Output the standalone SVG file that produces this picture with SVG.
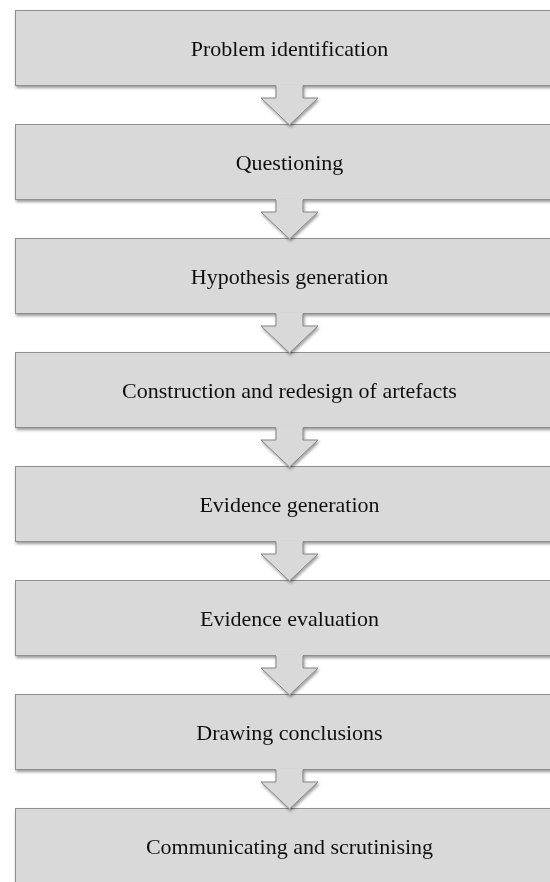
<svg xmlns="http://www.w3.org/2000/svg" width="550" height="882" viewBox="0 0 550 882">
  <style>
    .box { fill: #d9d9d9; stroke: #8f8f8f; stroke-width: 1; }
    .arrow-fill { fill: #d9d9d9; stroke: none; }
    .arrow-line { fill: none; stroke: #858585; stroke-width: 1; stroke-linejoin: miter; }
    .label { font-family: "Liberation Serif", "Times New Roman", serif; font-size: 22px; fill: #111111; text-anchor: middle; }
  </style>
  <defs>
    <filter id="shadow" x="-5%" y="-20%" width="115%" height="160%">
      <feDropShadow dx="1" dy="2" stdDeviation="1.6" flood-color="#000" flood-opacity="0.4"/>
    </filter>
    <!-- down arrow anchored at the bottom edge of a box (y = 0) -->
    <g id="downArrow">
      <path class="arrow-fill" d="M276,-1 L276,12 L261,12 L289.5,39 L318,12 L303,12 L303,-1 Z"/>
      <path class="arrow-line" d="M276,0 L276,12 L261,12 L289.5,39 L318,12 L303,12 L303,0"/>
    </g>
  </defs>

  <rect width="550" height="882" fill="#ffffff"/>

  <g id="step1" filter="url(#shadow)">
    <rect class="box" x="15.5" y="10.5" width="549" height="75"/>
    <text class="label" x="289.5" y="55.5">Problem identification</text>
  </g>
  <g id="step2" filter="url(#shadow)">
    <rect class="box" x="15.5" y="124.5" width="549" height="75"/>
    <text class="label" x="289.5" y="169.5">Questioning</text>
  </g>
  <g id="step3" filter="url(#shadow)">
    <rect class="box" x="15.5" y="238.5" width="549" height="75"/>
    <text class="label" x="289.5" y="283.5">Hypothesis generation</text>
  </g>
  <g id="step4" filter="url(#shadow)">
    <rect class="box" x="15.5" y="352.5" width="549" height="75"/>
    <text class="label" x="289.5" y="397.5">Construction and redesign of artefacts</text>
  </g>
  <g id="step5" filter="url(#shadow)">
    <rect class="box" x="15.5" y="466.5" width="549" height="75"/>
    <text class="label" x="289.5" y="511.5">Evidence generation</text>
  </g>
  <g id="step6" filter="url(#shadow)">
    <rect class="box" x="15.5" y="580.5" width="549" height="75"/>
    <text class="label" x="289.5" y="625.5">Evidence evaluation</text>
  </g>
  <g id="step7" filter="url(#shadow)">
    <rect class="box" x="15.5" y="694.5" width="549" height="75"/>
    <text class="label" x="289.5" y="739.5">Drawing conclusions</text>
  </g>
  <g id="step8" filter="url(#shadow)">
    <rect class="box" x="15.5" y="808.5" width="549" height="100"/>
    <text class="label" x="289.5" y="853.5">Communicating and scrutinising</text>
  </g>

  <g id="connectors" filter="url(#shadow)">
    <use href="#downArrow" y="86"/>
    <use href="#downArrow" y="200"/>
    <use href="#downArrow" y="314"/>
    <use href="#downArrow" y="428"/>
    <use href="#downArrow" y="542"/>
    <use href="#downArrow" y="656"/>
    <use href="#downArrow" y="770"/>
  </g>
</svg>
